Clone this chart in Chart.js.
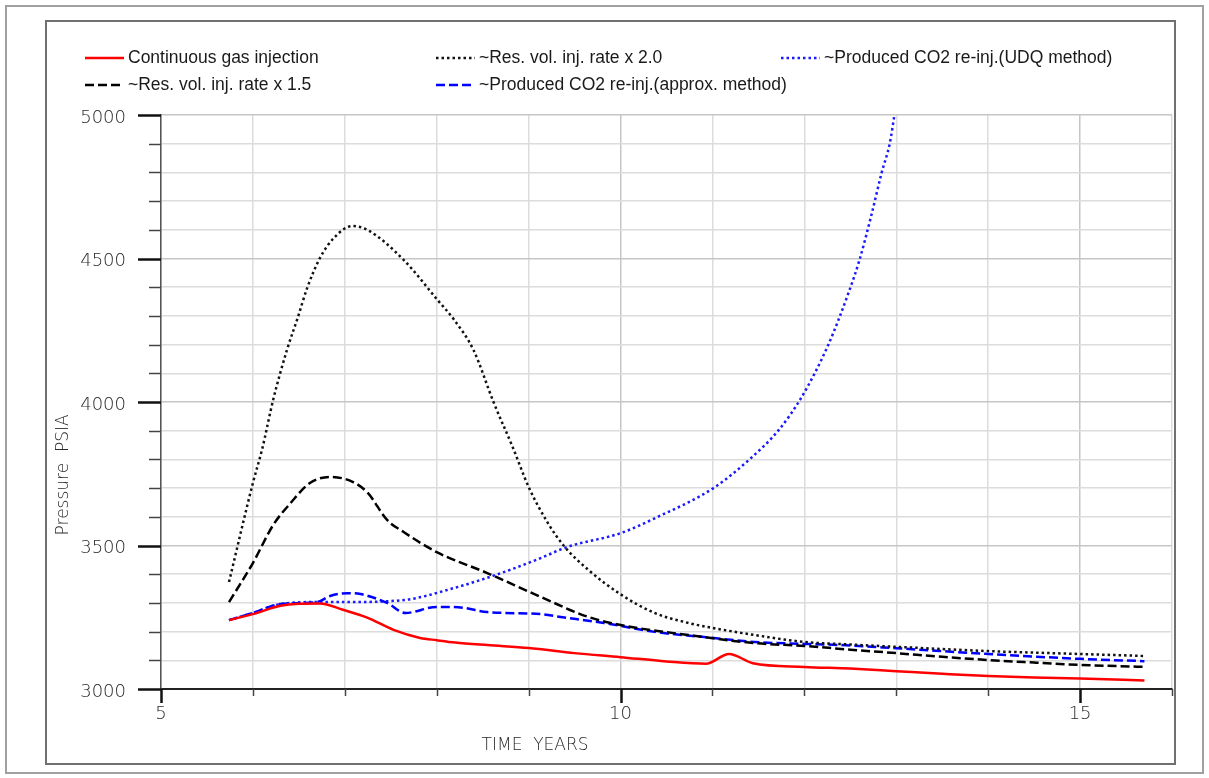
<!DOCTYPE html>
<html>
<head>
<meta charset="utf-8">
<script src="https://cdn.jsdelivr.net/npm/chart.js@4.4.1/dist/chart.umd.min.js"></script>
<style>
  html, body { margin: 0; padding: 0; background: #fff; }
  canvas { display: block; }
</style>
</head>
<body>
<canvas id="pressureChart" width="1209" height="778"></canvas>
<script>
// Series (time in years, pressure in psia)
const contYears = [5.74, 6.0, 6.3, 6.5, 6.73, 6.98, 7.25, 7.53, 7.82, 8.0, 8.2, 8.55, 9.0, 9.5, 10.0, 10.5, 10.93, 11.18, 11.44, 12.0, 12.5, 13.0, 13.5, 14.0, 14.5, 15.0, 15.7];
const contPsia  = [3240, 3261, 3290, 3297, 3298, 3276, 3248, 3206, 3178, 3170, 3162, 3153, 3143, 3125, 3111, 3096, 3088, 3122, 3090, 3077, 3071, 3062, 3053, 3045, 3040, 3037, 3030];

const x15Years = [5.74, 6.0, 6.22, 6.41, 6.62, 6.84, 7.09, 7.25, 7.46, 7.64, 8.0, 8.55, 9.13, 9.65, 10.0, 10.74, 11.46, 12.0, 12.5, 13.0, 13.5, 14.0, 14.5, 15.0, 15.7];
const x15Psia  = [3303, 3439, 3571, 3648, 3718, 3739, 3721, 3683, 3589, 3547, 3477, 3404, 3321, 3251, 3223, 3188, 3160, 3150, 3137, 3125, 3112, 3101, 3092, 3084, 3077];

const x20Years = [5.74, 6.0, 6.1, 6.22, 6.37, 6.49, 6.59, 6.73, 6.88, 7.08, 7.25, 7.64, 8.01, 8.19, 8.4, 8.62, 8.83, 9.0, 9.21, 9.38, 9.65, 10.0, 10.37, 10.74, 11.0, 11.46, 12.0, 12.5, 13.0, 14.0, 15.0, 15.7];
const x20Psia  = [3373, 3718, 3835, 4007, 4181, 4296, 4397, 4502, 4571, 4613, 4599, 4495, 4355, 4286, 4181, 3998, 3840, 3704, 3578, 3500, 3415, 3330, 3265, 3230, 3213, 3188, 3164, 3155, 3147, 3132, 3122, 3115];

const approxYears = [5.74, 6.0, 6.3, 6.7, 6.84, 7.03, 7.17, 7.46, 7.66, 8.0, 8.19, 8.55, 9.13, 9.35, 9.82, 10.37, 10.91, 11.46, 12.4, 13.0, 14.0, 15.0, 15.7];
const approxPsia  = [3240, 3265, 3296, 3303, 3324, 3334, 3331, 3300, 3265, 3286, 3286, 3268, 3261, 3251, 3230, 3199, 3181, 3164, 3153, 3142, 3122, 3105, 3097];

const udqYears = [5.74, 6.0, 6.3, 6.7, 7.0, 7.64, 8.19, 8.7, 9.13, 9.42, 10.0, 10.4, 11.01, 11.42, 11.72, 11.97, 12.26, 12.48, 12.6, 12.73, 12.84, 12.93, 12.98];
const udqPsia  = [3240, 3265, 3296, 3303, 3303, 3310, 3352, 3404, 3456, 3495, 3543, 3599, 3700, 3805, 3902, 4017, 4199, 4380, 4495, 4652, 4798, 4902, 5000];

const seriesLabels = [
  'Continuous gas injection',
  '~Res. vol. inj. rate x 1.5',
  '~Res. vol. inj. rate x 2.0',
  '~Produced CO2 re-inj.(approx. method)',
  '~Produced CO2 re-inj.(UDQ method)'
];

const xLabelled = [5, 10, 15];
const yLabelled = [3000, 3500, 4000, 4500, 5000];

const tickFont = '"DejaVu Sans", sans-serif';
const tickColor = '#2a2a2a';

function pairs(xs, ys) {
  return xs.map((x, i) => ({ x: x, y: ys[i] }));
}

// page frames drawn behind the chart
const framePlugin = {
  id: 'framePlugin',
  beforeDraw(chart) {
    const { ctx } = chart;
    ctx.save();
    ctx.fillStyle = '#fff';
    ctx.fillRect(0, 0, chart.width, chart.height);
    ctx.strokeStyle = '#a0a0a0';
    ctx.lineWidth = 2;
    ctx.strokeRect(6, 6, chart.width - 12, chart.height - 11);
    ctx.strokeStyle = '#707070';
    ctx.lineWidth = 2;
    ctx.strokeRect(46, 21, 1129, 743);
    ctx.restore();
  }
};

// tick marks (long at labelled values), axis titles, two-row legend
const decorPlugin = {
  id: 'decorPlugin',
  afterDraw(chart) {
    const { ctx, chartArea } = chart;
    const xs = chart.scales.x;
    const ys = chart.scales.y;
    ctx.save();

    // y ticks
    ys.ticks.forEach(t => {
      const py = Math.round(ys.getPixelForValue(t.value)) + 0.5;
      const major = yLabelled.includes(t.value);
      ctx.strokeStyle = major ? '#111' : '#444';
      ctx.lineWidth = major ? 2.5 : 1.5;
      ctx.beginPath();
      ctx.moveTo(chartArea.left - (major ? 23 : 12), py);
      ctx.lineTo(chartArea.left, py);
      ctx.stroke();
    });
    // x ticks
    xs.ticks.forEach(t => {
      const px = Math.round(xs.getPixelForValue(t.value)) + 0.5;
      const major = xLabelled.includes(t.value);
      ctx.strokeStyle = major ? '#111' : '#444';
      ctx.lineWidth = major ? 2.5 : 1.5;
      ctx.beginPath();
      ctx.moveTo(px, chartArea.bottom);
      ctx.lineTo(px, chartArea.bottom + (major ? 14 : 7));
      ctx.stroke();
    });

    // axis titles
    ctx.fillStyle = tickColor;
    ctx.font = '200 17px ' + tickFont;
    ctx.textAlign = 'center';
    ctx.textBaseline = 'middle';
    ctx.fillText('TIME  YEARS', chartArea.left + (chartArea.right - chartArea.left) * 0.37, 746);
    ctx.save();
    ctx.translate(64, chartArea.top + (chartArea.bottom - chartArea.top) * 0.627);
    ctx.rotate(-Math.PI / 2);
    ctx.fillText('Pressure  PSIA', 0, 0);
    ctx.restore();

    // legend, filled column by column
    const colX = [85, 436, 781];
    const rowY = [58, 85];
    ctx.font = '17.5px "Liberation Sans", Arial, sans-serif';
    ctx.textAlign = 'left';
    chart.data.datasets.forEach((ds, i) => {
      const lx = colX[Math.floor(i / 2)];
      const ly = rowY[i % 2];
      ctx.strokeStyle = ds.borderColor;
      ctx.lineWidth = ds.borderWidth;
      ctx.setLineDash(ds.borderDash || []);
      ctx.beginPath();
      ctx.moveTo(lx, ly);
      ctx.lineTo(lx + 39, ly);
      ctx.stroke();
      ctx.setLineDash([]);
      ctx.fillStyle = '#1a1a1a';
      ctx.fillText(ds.label, lx + 43, ly);
    });
    ctx.restore();
  }
};

const lineBase = {
  pointRadius: 0,
  fill: false,
  cubicInterpolationMode: 'monotone'
};

const ctx = document.getElementById('pressureChart').getContext('2d');
new Chart(ctx, {
  type: 'line',
  data: {
    datasets: [
      Object.assign({}, lineBase, {
        label: seriesLabels[0], data: pairs(contYears, contPsia),
        borderColor: '#ff0000', borderWidth: 2.5
      }),
      Object.assign({}, lineBase, {
        label: seriesLabels[1], data: pairs(x15Years, x15Psia),
        borderColor: '#000000', borderWidth: 2.5, borderDash: [9, 4]
      }),
      Object.assign({}, lineBase, {
        label: seriesLabels[2], data: pairs(x20Years, x20Psia),
        borderColor: '#111111', borderWidth: 2.5, borderDash: [2.5, 3]
      }),
      Object.assign({}, lineBase, {
        label: seriesLabels[3], data: pairs(approxYears, approxPsia),
        borderColor: '#0000ff', borderWidth: 2.5, borderDash: [9, 4]
      }),
      Object.assign({}, lineBase, {
        label: seriesLabels[4], data: pairs(udqYears, udqPsia),
        borderColor: '#1a1aff', borderWidth: 2.5, borderDash: [2.5, 3]
      })
    ]
  },
  options: {
    responsive: false,
    animation: false,
    devicePixelRatio: 1,
    layout: { padding: { left: 0, top: 115, right: 37, bottom: 0 } },
    plugins: {
      legend: { display: false },
      tooltip: { enabled: false }
    },
    scales: {
      x: {
        type: 'linear',
        min: 5,
        max: 16,
        afterFit(scale) { scale.height = 89; },
        ticks: {
          stepSize: 1,
          autoSkip: false,
          maxRotation: 0,
          padding: 15,
          color: tickColor,
          font: { family: tickFont, size: 18, weight: 200 },
          callback: v => xLabelled.includes(v) ? String(v) : ''
        },
        grid: {
          drawTicks: false,
          lineWidth: 1.5,
          color: c => xLabelled.includes(c.tick.value) ? '#c6c6c6' : '#dcdcdc'
        },
        border: { color: '#222', width: 2 }
      },
      y: {
        min: 3000,
        max: 5000,
        afterFit(scale) { scale.width = 161; },
        ticks: {
          stepSize: 100,
          autoSkip: false,
          padding: 35,
          labelOffset: 3,
          color: tickColor,
          font: { family: tickFont, size: 18, weight: 200 },
          callback: v => yLabelled.includes(v) ? String(v) : ''
        },
        grid: {
          drawTicks: false,
          lineWidth: 1.5,
          color: c => yLabelled.includes(c.tick.value) ? '#c6c6c6' : '#dcdcdc'
        },
        border: { color: '#555', width: 1.5 }
      }
    }
  },
  plugins: [framePlugin, decorPlugin]
});
</script>
</body>
</html>
